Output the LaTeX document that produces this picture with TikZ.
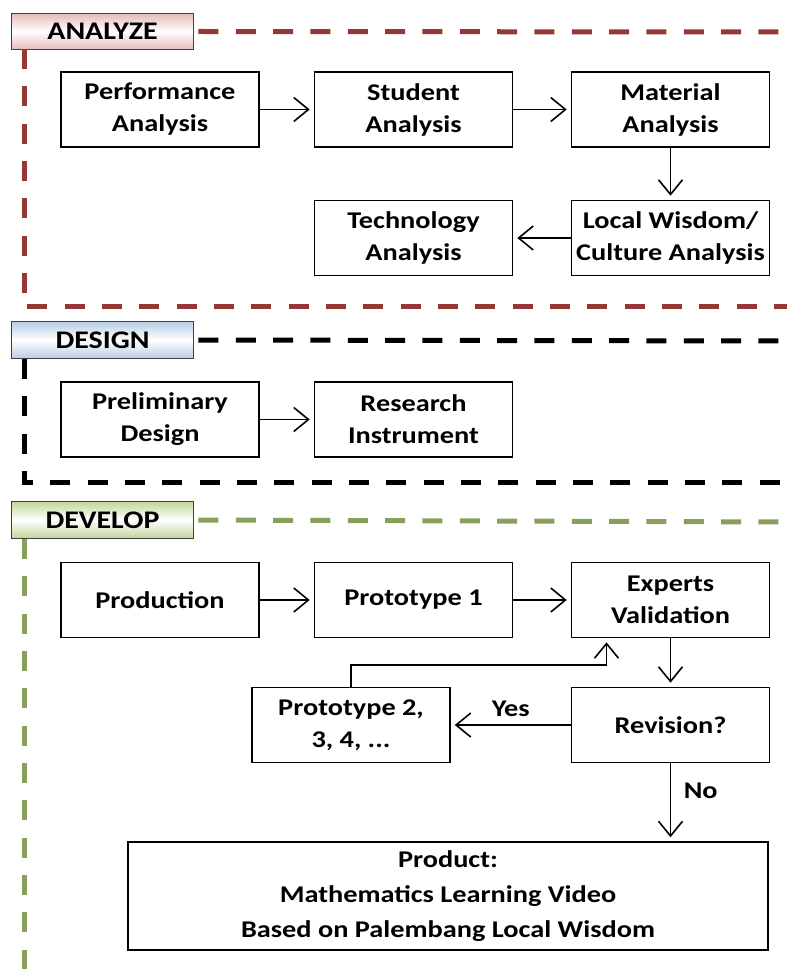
\documentclass[tikz,border=0pt]{standalone}
\usepackage{fontspec}
\setmainfont{Carlito}[FakeStretch=1.18]
\usepackage{tikz}
\usetikzlibrary{arrows.meta,positioning,calc}
\usepackage{xcolor}
\definecolor{anared}{HTML}{953735}
\definecolor{anapink}{HTML}{E6B9B8}
\definecolor{desblue}{HTML}{B9CDE5}
\definecolor{devgreen}{HTML}{C3D69B}
\definecolor{devline}{HTML}{87A05A}

\begin{document}
\begin{tikzpicture}[x=0.75pt, y=-0.75pt, line join=miter]
      \tikzset{
	  stage/.style={rectangle,draw=black,line width=1.2pt, minimum width=148.5pt, minimum height=56.25pt, inner sep=2pt, align=center, font=\fontsize{18}{24}\selectfont\bfseries},
	  phase/.style={rectangle,draw=black!75,line width=0.9pt, minimum width=137pt, minimum height=27.5pt, inner sep=0pt, font=\fontsize{19}{20}\selectfont\bfseries},
	  frame/.style={line width=3.75pt, dash pattern=on 15pt off 13pt},
	  arr/.style={-{Straight Barb[length=11pt,width=18pt,line width=1.2pt]}, line width=1.2pt, shorten >=3pt},
	  lbl/.style={font=\fontsize{18}{24}\selectfont\bfseries}
      }
      \useasboundingbox (0,0) rectangle (787,969);

      % phase headers
      \node at (102.5,31.5) [phase, top color=anapink, bottom color=anapink, middle color=white] (analyze) {ANALYZE};
      \node at (102.5,340) [phase, top color=desblue, bottom color=desblue, middle color=white] (design) {DESIGN};
      \node at (102.5,520) [phase, top color=devgreen, bottom color=devgreen, middle color=white] (develop) {DEVELOP};

      % dashed frames
      \draw[frame, anared] ([xshift=3pt]analyze.east) -- (787,32);
      \draw[frame, anared] (24,49) |- (787,307);
      \draw[frame, black] ([xshift=3pt]design.east) -- (787,341);
      \draw[frame, black] (24,359) |- (787,482);
      \draw[frame, devline] ([xshift=3pt]develop.east) -- (787,522);
      \draw[frame, devline] (24,539) -- (24,969);

      % analyze
      \node at (160,109.5) [stage] (perf) {Performance\\Analysis};
      \node at (413.5,109.5) [stage] (stud) {Student\\Analysis};
      \node at (670.5,109.5) [stage] (mat) {Material\\Analysis};
      \node at (670.5,238) [stage] (local) {Local Wisdom/\\Culture Analysis};
      \node at (413.5,238) [stage] (tech) {Technology\\Analysis};
      \draw[arr] (perf) -- (stud);
      \draw[arr] (stud) -- (mat);
      \draw[arr] (mat) -- (local);
      \draw[arr] (local) -- (tech);

      % design
      \node at (160,419.5) [stage] (prelim) {Preliminary\\Design};
      \node at (413.5,419.5) [stage] (instr) {Research\\Instrument};
      \draw[arr] (prelim) -- (instr);

      % develop
      \node at (160,600) [stage] (prod) {Production};
      \node at (413.5,600) [stage] (proto1) {Prototype 1};
      \node at (670.5,600) [stage] (expert) {Experts\\Validation};
      \node at (670.5,725) [stage] (revis) {Revision?};
      \node at (351,725) [stage] (proto2) {Prototype 2,\\3, 4, ...};
      \node at (448,896) [stage, minimum width=480pt, minimum height=81pt, font=\fontsize{18}{26}\selectfont\bfseries] (product) {Product:\\Mathematics Learning Video\\Based on Palembang Local Wisdom};
      \draw[arr] (prod) -- (proto1);
      \draw[arr] (proto1) -- (expert);
      \draw[arr] (expert) -- (revis);
      \draw[arr] (revis) -- node[lbl, above=2pt] {Yes} (proto2);
      \draw[arr] (proto2.north) -- ++(0,-22) -| ([xshift=-48pt]expert.south);
      \draw[arr] (revis) -- node[lbl, right=6pt, pos=0.35] {No} (revis |- product.north);
\end{tikzpicture}
\end{document}
